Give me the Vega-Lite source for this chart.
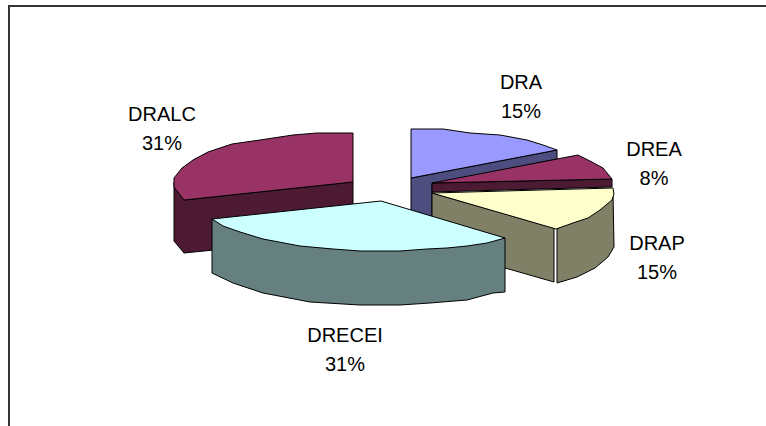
{
  "$schema": "https://vega.github.io/schema/vega-lite/v6.json",
  "autosize": {"type": "fit", "contains": "padding"},
  "padding": 0,
  "width": 766,
  "height": 426,
  "background": "white",
  "view": {"stroke": null},
  "datasets": {
    "frame": [
      {"n": 0, "x": 9, "y": 426},
      {"n": 1, "x": 9, "y": 6},
      {"n": 2, "x": 766, "y": 6}
    ],
    "labels": [
      {"label": "DRA\n15%", "x": 521, "y": 73},
      {"label": "DREA\n8%", "x": 654, "y": 140},
      {"label": "DRAP\n15%", "x": 657, "y": 234},
      {"label": "DRECEI\n31%", "x": 345, "y": 326},
      {"label": "DRALC\n31%", "x": 162, "y": 105}
    ],
    "slices": [
      {"part": "DRALC side", "n": 0, "x": 174, "y": 182},
      {"part": "DRALC side", "n": 1, "x": 184, "y": 200},
      {"part": "DRALC side", "n": 2, "x": 353, "y": 182},
      {"part": "DRALC side", "n": 3, "x": 353, "y": 236},
      {"part": "DRALC side", "n": 4, "x": 184, "y": 253},
      {"part": "DRALC side", "n": 5, "x": 174, "y": 241},

      {"part": "DRALC top", "n": 0, "x": 353, "y": 133},
      {"part": "DRALC top", "n": 1, "x": 317, "y": 133},
      {"part": "DRALC top", "n": 2, "x": 293, "y": 135},
      {"part": "DRALC top", "n": 3, "x": 260, "y": 140},
      {"part": "DRALC top", "n": 4, "x": 232, "y": 144},
      {"part": "DRALC top", "n": 5, "x": 208, "y": 152},
      {"part": "DRALC top", "n": 6, "x": 193, "y": 160},
      {"part": "DRALC top", "n": 7, "x": 182, "y": 168},
      {"part": "DRALC top", "n": 8, "x": 174, "y": 178},
      {"part": "DRALC top", "n": 9, "x": 174, "y": 187},
      {"part": "DRALC top", "n": 10, "x": 184, "y": 200},
      {"part": "DRALC top", "n": 11, "x": 353, "y": 182},

      {"part": "DRA side", "n": 0, "x": 411, "y": 178},
      {"part": "DRA side", "n": 1, "x": 557, "y": 150},
      {"part": "DRA side", "n": 2, "x": 557, "y": 159},
      {"part": "DRA side", "n": 3, "x": 432, "y": 185},
      {"part": "DRA side", "n": 4, "x": 432, "y": 222},
      {"part": "DRA side", "n": 5, "x": 411, "y": 215},

      {"part": "DRA top", "n": 0, "x": 411, "y": 129},
      {"part": "DRA top", "n": 1, "x": 443, "y": 129},
      {"part": "DRA top", "n": 2, "x": 470, "y": 133},
      {"part": "DRA top", "n": 3, "x": 500, "y": 135},
      {"part": "DRA top", "n": 4, "x": 527, "y": 140},
      {"part": "DRA top", "n": 5, "x": 543, "y": 145},
      {"part": "DRA top", "n": 6, "x": 557, "y": 150},
      {"part": "DRA top", "n": 7, "x": 411, "y": 178},

      {"part": "DREA side", "n": 0, "x": 432, "y": 183},
      {"part": "DREA side", "n": 1, "x": 612, "y": 179},
      {"part": "DREA side", "n": 2, "x": 612, "y": 187},
      {"part": "DREA side", "n": 3, "x": 432, "y": 192},

      {"part": "DREA top", "n": 0, "x": 432, "y": 183},
      {"part": "DREA top", "n": 1, "x": 578, "y": 155},
      {"part": "DREA top", "n": 2, "x": 592, "y": 162},
      {"part": "DREA top", "n": 3, "x": 603, "y": 168},
      {"part": "DREA top", "n": 4, "x": 612, "y": 179},

      {"part": "DRAP inner", "n": 0, "x": 432, "y": 193},
      {"part": "DRAP inner", "n": 1, "x": 554, "y": 228},
      {"part": "DRAP inner", "n": 2, "x": 554, "y": 282},
      {"part": "DRAP inner", "n": 3, "x": 432, "y": 247},

      {"part": "DRAP outer", "n": 0, "x": 557, "y": 229},
      {"part": "DRAP outer", "n": 1, "x": 613, "y": 192},
      {"part": "DRAP outer", "n": 2, "x": 614, "y": 247},
      {"part": "DRAP outer", "n": 3, "x": 608, "y": 257},
      {"part": "DRAP outer", "n": 4, "x": 595, "y": 268},
      {"part": "DRAP outer", "n": 5, "x": 577, "y": 277},
      {"part": "DRAP outer", "n": 6, "x": 557, "y": 283},

      {"part": "DRAP top", "n": 0, "x": 432, "y": 193},
      {"part": "DRAP top", "n": 1, "x": 613, "y": 188},
      {"part": "DRAP top", "n": 2, "x": 614, "y": 194},
      {"part": "DRAP top", "n": 3, "x": 612, "y": 200},
      {"part": "DRAP top", "n": 4, "x": 600, "y": 210},
      {"part": "DRAP top", "n": 5, "x": 588, "y": 218},
      {"part": "DRAP top", "n": 6, "x": 573, "y": 223},
      {"part": "DRAP top", "n": 7, "x": 556, "y": 229},

      {"part": "DRECEI side", "n": 0, "x": 212, "y": 219},
      {"part": "DRECEI side", "n": 1, "x": 505, "y": 238},
      {"part": "DRECEI side", "n": 2, "x": 505, "y": 292},
      {"part": "DRECEI side", "n": 3, "x": 493, "y": 293},
      {"part": "DRECEI side", "n": 4, "x": 467, "y": 300},
      {"part": "DRECEI side", "n": 5, "x": 430, "y": 303},
      {"part": "DRECEI side", "n": 6, "x": 400, "y": 305},
      {"part": "DRECEI side", "n": 7, "x": 360, "y": 305},
      {"part": "DRECEI side", "n": 8, "x": 310, "y": 302},
      {"part": "DRECEI side", "n": 9, "x": 263, "y": 293},
      {"part": "DRECEI side", "n": 10, "x": 233, "y": 283},
      {"part": "DRECEI side", "n": 11, "x": 212, "y": 273},

      {"part": "DRECEI top", "n": 0, "x": 212, "y": 219},
      {"part": "DRECEI top", "n": 1, "x": 381, "y": 201},
      {"part": "DRECEI top", "n": 2, "x": 505, "y": 238},
      {"part": "DRECEI top", "n": 3, "x": 487, "y": 243},
      {"part": "DRECEI top", "n": 4, "x": 467, "y": 246},
      {"part": "DRECEI top", "n": 5, "x": 447, "y": 248},
      {"part": "DRECEI top", "n": 6, "x": 427, "y": 249},
      {"part": "DRECEI top", "n": 7, "x": 400, "y": 251},
      {"part": "DRECEI top", "n": 8, "x": 360, "y": 251},
      {"part": "DRECEI top", "n": 9, "x": 333, "y": 249},
      {"part": "DRECEI top", "n": 10, "x": 300, "y": 246},
      {"part": "DRECEI top", "n": 11, "x": 263, "y": 239},
      {"part": "DRECEI top", "n": 12, "x": 240, "y": 232},
      {"part": "DRECEI top", "n": 13, "x": 223, "y": 226}
    ]
  },
  "layer": [
    {
      "data": {"name": "frame"},
      "mark": {"type": "line", "stroke": "#333333", "strokeWidth": 2, "clip": true},
      "encoding": {
        "x": {"field": "x", "type": "quantitative", "scale": {"domain": [0, 766]}, "axis": null},
        "y": {"field": "y", "type": "quantitative", "scale": {"domain": [426, 0]}, "axis": null},
        "order": {"field": "n", "type": "quantitative"}
      }
    },
    {
      "data": {"name": "slices"},
      "mark": {"type": "line", "interpolate": "linear-closed", "stroke": "#000000", "strokeWidth": 1, "strokeJoin": "round"},
      "encoding": {
        "x": {"field": "x", "type": "quantitative", "scale": {"domain": [0, 766]}, "axis": null},
        "y": {"field": "y", "type": "quantitative", "scale": {"domain": [426, 0]}, "axis": null},
        "order": {"field": "n", "type": "quantitative"},
        "detail": {"field": "part", "type": "nominal"},
        "fill": {
          "field": "part",
          "type": "nominal",
          "legend": null,
          "scale": {
            "domain": ["DRALC side", "DRALC top", "DRA side", "DRA top", "DREA side", "DREA top", "DRAP inner", "DRAP outer", "DRAP top", "DRECEI side", "DRECEI top"],
            "range": ["#4D1A33", "#993366", "#4D4D80", "#9999FF", "#4D1A33", "#993366", "#808066", "#808066", "#FFFFCC", "#668080", "#CCFFFF"]
          }
        }
      }
    },
    {
      "data": {"name": "labels"},
      "mark": {"type": "text", "font": "Liberation Sans", "fontSize": 20, "lineBreak": "\n", "lineHeight": 29, "baseline": "top", "align": "center", "color": "#000000"},
      "encoding": {
        "x": {"field": "x", "type": "quantitative", "scale": {"domain": [0, 766]}, "axis": null},
        "y": {"field": "y", "type": "quantitative", "scale": {"domain": [426, 0]}, "axis": null},
        "text": {"field": "label", "type": "nominal"}
      }
    }
  ]
}
